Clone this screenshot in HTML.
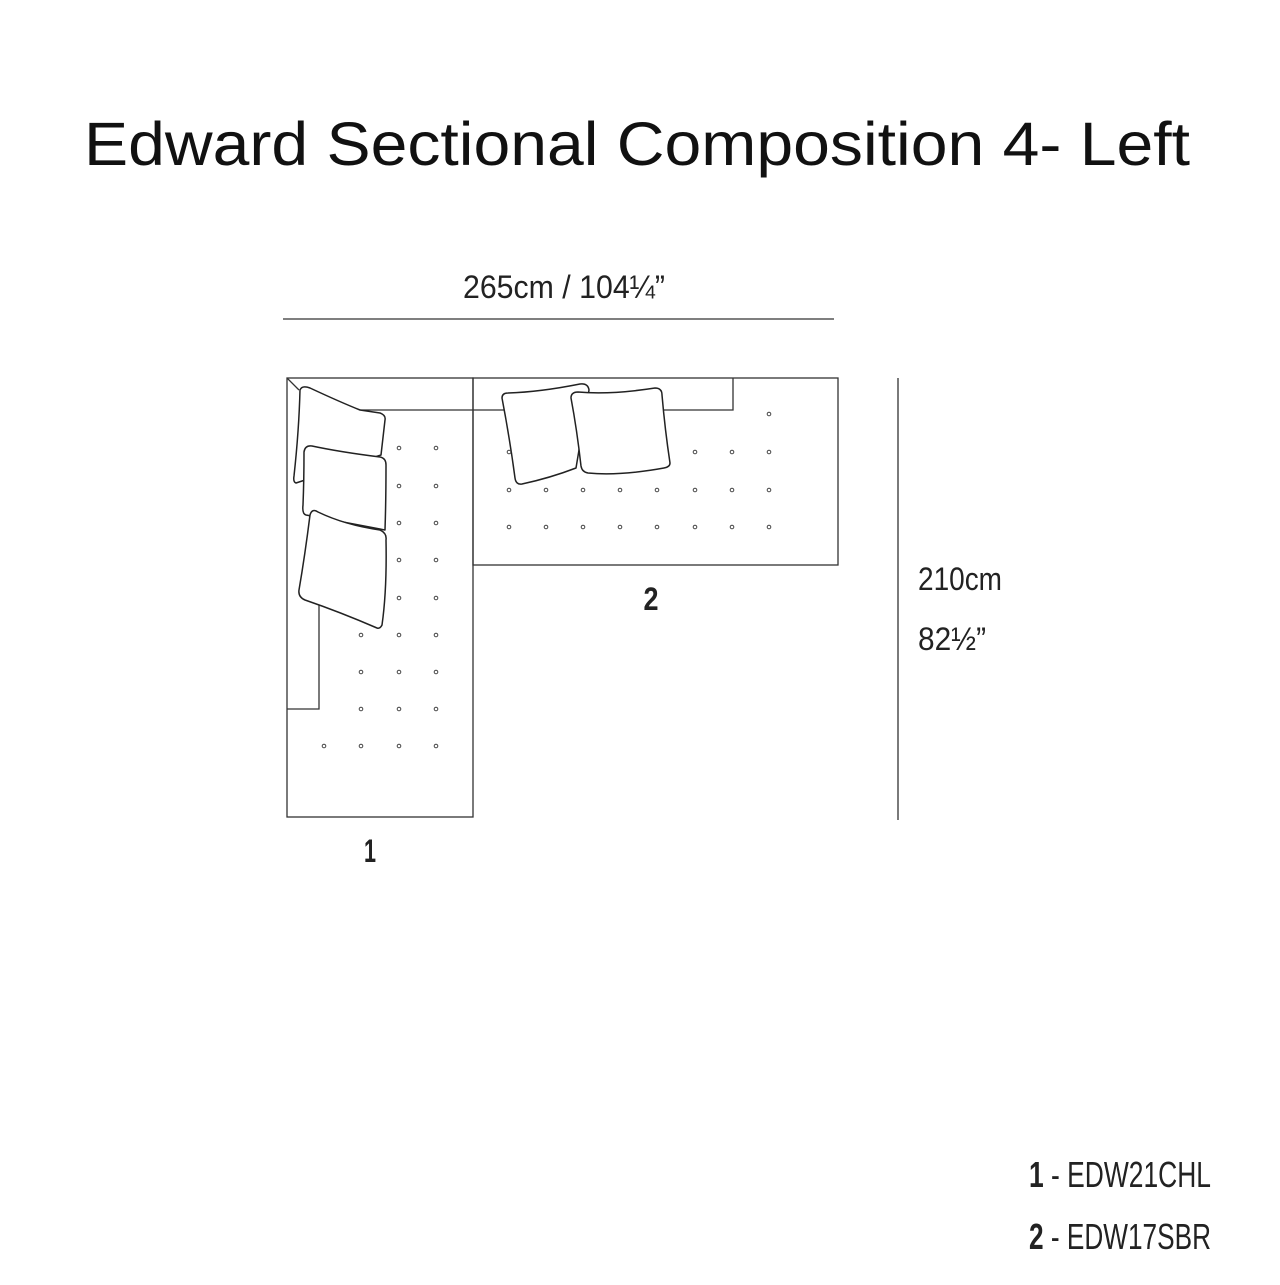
<!DOCTYPE html>
<html><head><style>html,body{margin:0;padding:0;background:#fff}</style></head>
<body>
<svg width="1280" height="1280" viewBox="0 0 1280 1280" xmlns="http://www.w3.org/2000/svg">
<rect width="1280" height="1280" fill="#fff"/>
<text x="637" y="165" text-anchor="middle" font-family="Liberation Sans, sans-serif" font-size="61" fill="#111" textLength="1106" lengthAdjust="spacingAndGlyphs">Edward Sectional Composition 4- Left</text>
<g font-family="Liberation Sans, sans-serif" fill="#222">
<text x="463" y="298" font-size="32" textLength="202" lengthAdjust="spacingAndGlyphs">265cm / 104¼”</text>
<text x="918" y="590" font-size="32" textLength="84" lengthAdjust="spacingAndGlyphs">210cm</text>
<text x="918" y="650" font-size="32" textLength="68" lengthAdjust="spacingAndGlyphs">82½”</text>
<text x="651" y="610" font-size="32" font-weight="bold" text-anchor="middle" textLength="15" lengthAdjust="spacingAndGlyphs">2</text>
<text x="370" y="862" font-size="32" font-weight="bold" text-anchor="middle" textLength="12" lengthAdjust="spacingAndGlyphs">1</text>
<text x="1029" y="1187" font-size="36" textLength="182" lengthAdjust="spacingAndGlyphs"><tspan font-weight="bold">1</tspan> - EDW21CHL</text>
<text x="1029" y="1249" font-size="36" textLength="182" lengthAdjust="spacingAndGlyphs"><tspan font-weight="bold">2</tspan> - EDW17SBR</text>
</g>
<g stroke="#333" stroke-width="1.3" fill="none">
<line x1="283" y1="319" x2="834" y2="319"/>
<line x1="898" y1="378" x2="898" y2="820"/>
<rect x="287" y="378" width="186" height="439"/>
<rect x="473" y="378" width="365" height="187"/>
<line x1="287" y1="378" x2="299" y2="390"/>
<polyline points="300,410 733,410 733,378"/>
<polyline points="319,600 319,709 287,709"/>
</g>
<g stroke="#222" stroke-width="1.5" fill="#fff" stroke-linejoin="round">
<path d="M300,390 Q302,385 310,388 Q340,402 360,410 L380,413 Q386,415 385,420 L381,455 L296,483 Q293,482 294,476 Q299,430 300,390Z"/>
<path d="M304,452 Q305,445 312,446 Q340,452 380,457 Q386,458 386,465 Q386,500 385,530 L306,515 Q302,514 303,505 Q304,480 304,452Z"/>
<path d="M310,515 Q312,508 318,512 Q345,525 380,530 Q387,533 386,540 Q387,590 382,625 Q380,629 377,628 Q340,612 305,600 Q298,597 299,590 Q305,555 310,515Z"/>
<path d="M502,398 Q502,393 508,393 Q540,392 580,384 Q588,383 589,390 L576,468 Q550,478 522,484 Q516,485 515,478 Q510,440 502,398Z"/>
<path d="M571,398 Q571,392 578,392 Q610,395 655,388 Q662,388 662,395 Q665,430 670,463 Q670,467 664,468 Q620,476 588,473 Q582,472 581,466 Q577,430 571,398Z"/>
</g>
<g fill="none" stroke="#444" stroke-width="1">
<circle cx="399" cy="448" r="1.8"/><circle cx="436" cy="448" r="1.8"/>
<circle cx="399" cy="486" r="1.8"/><circle cx="436" cy="486" r="1.8"/>
<circle cx="399" cy="523" r="1.8"/><circle cx="436" cy="523" r="1.8"/>
<circle cx="399" cy="560" r="1.8"/><circle cx="436" cy="560" r="1.8"/>
<circle cx="399" cy="598" r="1.8"/><circle cx="436" cy="598" r="1.8"/>
<circle cx="361" cy="635" r="1.8"/><circle cx="399" cy="635" r="1.8"/><circle cx="436" cy="635" r="1.8"/>
<circle cx="361" cy="672" r="1.8"/><circle cx="399" cy="672" r="1.8"/><circle cx="436" cy="672" r="1.8"/>
<circle cx="361" cy="709" r="1.8"/><circle cx="399" cy="709" r="1.8"/><circle cx="436" cy="709" r="1.8"/>
<circle cx="324" cy="746" r="1.8"/><circle cx="361" cy="746" r="1.8"/><circle cx="399" cy="746" r="1.8"/><circle cx="436" cy="746" r="1.8"/>
<circle cx="769" cy="414" r="1.8"/>
<circle cx="509" cy="452" r="1.8"/><circle cx="695" cy="452" r="1.8"/><circle cx="732" cy="452" r="1.8"/><circle cx="769" cy="452" r="1.8"/>
<circle cx="509" cy="490" r="1.8"/><circle cx="546" cy="490" r="1.8"/><circle cx="583" cy="490" r="1.8"/><circle cx="620" cy="490" r="1.8"/><circle cx="657" cy="490" r="1.8"/><circle cx="695" cy="490" r="1.8"/><circle cx="732" cy="490" r="1.8"/><circle cx="769" cy="490" r="1.8"/>
<circle cx="509" cy="527" r="1.8"/><circle cx="546" cy="527" r="1.8"/><circle cx="583" cy="527" r="1.8"/><circle cx="620" cy="527" r="1.8"/><circle cx="657" cy="527" r="1.8"/><circle cx="695" cy="527" r="1.8"/><circle cx="732" cy="527" r="1.8"/><circle cx="769" cy="527" r="1.8"/>
</g>
</svg>
</body></html>
